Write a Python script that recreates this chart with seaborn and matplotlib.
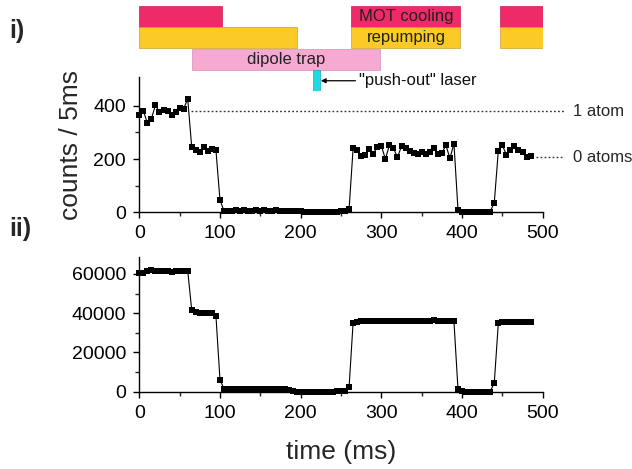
import numpy as np
import pandas as pd
import matplotlib
matplotlib.use("Agg")
import matplotlib.pyplot as plt
import seaborn as sns

# time base (ms), one point every 5 ms
time_ms = [0, 5, 10, 15, 20, 25, 30, 35, 40, 45, 50, 55, 60, 65, 70, 75, 80, 85, 90, 95,
           100, 105, 110, 115, 120, 125, 130, 135, 140, 145, 150, 155, 160, 165, 170, 175,
           180, 185, 190, 195, 200, 205, 210, 215, 220, 225, 230, 235, 240, 245, 250, 255,
           260, 265, 270, 275, 280, 285, 290, 295, 300, 305, 310, 315, 320, 325, 330, 335,
           340, 345, 350, 355, 360, 365, 370, 375, 380, 385, 390, 395, 400, 405, 410, 415,
           420, 425, 430, 435, 440, 445, 450, 455, 460, 465, 470, 475, 480, 485]

# panel i) single atom fluorescence, counts per 5 ms
counts_5ms = [367, 380, 336, 352, 402, 377, 383, 380, 367, 377, 390, 389, 426,
              244, 235, 228, 245, 232, 238, 233,
              46,
              5, 6, 4, 7, 5, 8, 6, 5, 7, 6, 9, 5, 6, 7, 5, 6, 4, 5, 6, 4,
              3, 2, 3, 1, 2, 3, 2, 2, 3, 4, 6,
              11,
              240, 235, 212, 215, 238, 220, 245, 250, 200, 252, 240, 207, 248,
              240, 230, 222, 218, 225, 220, 225, 242, 220, 222, 252, 203, 258,
              10,
              3, 2, 2, 3, 2, 2, 3, 3,
              36,
              232, 252, 216, 235, 248, 235, 225, 208, 212]

# panel ii) MOT fluorescence
counts_mot = [60500, 60700, 61600, 61900, 61700, 61600, 61500, 61400, 61200, 61300, 61500, 61600, 61700,
              41500, 40400, 40100, 40000, 40000, 39900, 38600,
              6200,
              1300, 1200, 1300, 1200, 1300, 1300, 1200, 1300, 1200, 1300, 1200, 1300, 1300, 1200, 1300, 1200, 1100,
              300, 100, 0, -100, 0, 100, 0, -100, 0, 100, 0, 200, 300, 600,
              2300,
              35200, 35600, 35800, 35900, 36000, 36100, 36000, 36100, 36200, 36000, 35900, 36000, 36100,
              36000, 36100, 36000, 36000, 35900, 36000, 36100, 36300, 36100, 36000, 35900, 35900, 35800,
              1300,
              200, 0, -100, 0, 100, 0, -100, 100,
              4600,
              35000, 35300, 35400, 35500, 35600, 35500, 35600, 35600, 35500]

# timing sequence (ms)
mot_start = [0, 263, 447]
mot_end = [102, 398, 500]
repump_start = [0, 263, 447]
repump_end = [195, 398, 500]
dipole_start = [65]
dipole_end = [298]
pushout_start = [215]
pushout_end = [224]

one_atom_level = 380
zero_atom_level = 207

df = pd.DataFrame({"time": time_ms, "counts": counts_5ms, "mot": counts_mot})

sns.set_style("ticks")
plt.rcParams["font.family"] = ["Liberation Sans", "DejaVu Sans"]
plt.rcParams["xtick.direction"] = "out"
plt.rcParams["ytick.direction"] = "out"

fig = plt.figure(figsize=(6.32, 4.69), dpi=100)
W, H = 632, 469
x0, x1 = 139.3, 542.7


def add_axes(top_px, bottom_px):
    return fig.add_axes([x0 / W, 1 - bottom_px / H, (x1 - x0) / W, (bottom_px - top_px) / H])


ax_seq = add_axes(5.5, 91.5)
ax1 = add_axes(77.3, 212.3)
ax2 = add_axes(257.3, 391.7)

# --- timing sequence bars ---
ax_seq.set_xlim(0, 500)
ax_seq.set_ylim(3.5, -0.5)
ax_seq.axis("off")
ax_seq.patch.set_alpha(0)
ax_seq.set_zorder(3)

rows = [
    (mot_start, mot_end, 0, "#EE2A68", "#C8205A"),
    (repump_start, repump_end, 1, "#FBCA26", "#C8A040"),
    (dipole_start, dipole_end, 2, "#F6AAD2", "#D890B8"),
    (pushout_start, pushout_end, 3, "#22D8E4", "#10A8B8"),
]
for starts, ends, row, fc, ec in rows:
    widths = [e - s for s, e in zip(starts, ends)]
    ax_seq.barh([row] * len(starts), widths, left=starts, height=0.97,
                color=fc, edgecolor=ec, linewidth=0.5)

ax_seq.text((mot_start[1] + mot_end[1]) / 2, 0, "MOT cooling", ha="center", va="center",
            fontsize=12, color="#222222")
ax_seq.text((repump_start[1] + repump_end[1]) / 2, 1, "repumping", ha="center", va="center",
            fontsize=12, color="#222222")
ax_seq.text((dipole_start[0] + dipole_end[0]) / 2, 2, "dipole trap", ha="center", va="center",
            fontsize=12, color="#222222")
ax_seq.annotate('"push-out" laser', xy=(pushout_end[0] + 1, 3.0), xytext=(272, 3.0),
                ha="left", va="center", fontsize=12, color="#111111",
                arrowprops=dict(arrowstyle="-|>", color="black", lw=0.9,
                                mutation_scale=7, shrinkA=0, shrinkB=0))

# --- panel i ---
line_kw = dict(color="black", linewidth=0.8, marker="s", markersize=4.8,
               markeredgewidth=0, clip_on=False)
sns.lineplot(data=df, x="time", y="counts", ax=ax1, **line_kw)
ax1.set_xlim(0, 500)
ax1.set_ylim(0, 507)
ax1.set_yticks([0, 200, 400])
ax1.set_yticks([100, 300], minor=True)
ax1.set_xlabel("")
ax1.set_ylabel("counts / 5ms", fontsize=19)
ax1.yaxis.set_label_coords(-0.14, 0.5)

ax1.plot([64, 526], [one_atom_level] * 2, color="#333333", lw=1.0,
         ls=(0, (1.3, 1.6)), clip_on=False)
ax1.plot([492, 526], [zero_atom_level] * 2, color="#333333", lw=1.0,
         ls=(0, (1.3, 1.6)), clip_on=False)
ax1.text(538, one_atom_level, "1 atom", ha="left", va="center", fontsize=12)
ax1.text(538, zero_atom_level, "0 atoms", ha="left", va="center", fontsize=12)

# --- panel ii ---
sns.lineplot(data=df, x="time", y="mot", ax=ax2, **line_kw)
ax2.set_xlim(0, 500)
ax2.set_ylim(0, 68500)
ax2.set_yticks([0, 20000, 40000, 60000])
ax2.set_yticks([10000, 30000, 50000], minor=True)
ax2.set_ylabel("")
ax2.set_xlabel("time (ms)", fontsize=19)
ax2.xaxis.set_label_coords(0.5, -0.36)

for ax in (ax1, ax2):
    sns.despine(ax=ax)
    ax.set_xticks([0, 100, 200, 300, 400, 500])
    ax.set_xticks([50, 150, 250, 350, 450], minor=True)
    ax.tick_params(which="major", length=4.5, width=1.0, labelsize=14, pad=5, colors="black")
    ax.tick_params(which="minor", length=2.8, width=1.0)
    for sp in ("left", "bottom"):
        ax.spines[sp].set_linewidth(1.0)
        ax.spines[sp].set_color("black")

fig.text(16.7 / W, 1 - 31 / H, "i)", fontsize=18, fontweight="bold", ha="center", va="center")
fig.text(20 / W, 1 - 229 / H, "ii)", fontsize=18, fontweight="bold", ha="center", va="center")

fig.savefig("out.png", dpi=100)
